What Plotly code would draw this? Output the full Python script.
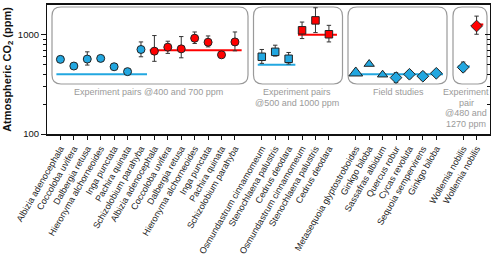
import plotly.graph_objects as go

# ---------------- data ----------------
tick_pos = list(range(0, 14)) + list(range(15, 21)) + list(range(22, 29)) + [30, 31]
tick_labels = [
    "Albizia adenocephala", "Coccoloba uvifera", "Dalbergia retusa", "Hieronyma alchorneoides",
    "Inga punctata", "Pachira quinata", "Schizolobium parahyba",
    "Albizia adenocephala", "Coccoloba uvifera", "Dalbergia retusa", "Hieronyma alchorneoides",
    "Inga punctata", "Pachira quinata", "Schizolobium parahyba",
    "Osmundastrum cinnamomeum", "Stenochlaena palustris", "Cedrus deodara",
    "Osmundastrum cinnamomeum", "Stenochlaena palustris", "Cedrus deodara",
    "Metasequoia glyptostroboides", "Ginkgo biloba", "Sassafras albidum", "Quercus robur",
    "Cycas revoluta", "Sequoia sempervirens", "Ginkgo biloba",
    "Wollemia nobilis", "Wollemia nobilis",
]

blue_circ_x = [0, 1, 2, 3, 4, 5, 6]
blue_circ_y = [565, 484, 569, 578, 476, 425, 711]
blue_circ_up = [0, 0, 104, 0, 0, 0, 136]
blue_circ_dn = [0, 0, 74, 0, 0, 0, 111]

red_circ_x = [7, 8, 9, 10, 11, 12, 13]
red_circ_y = [684, 750, 721, 923, 841, 628, 847]
red_circ_up = [298, 111, 238, 144, 132, 0, 220]
red_circ_dn = [144, 101, 135, 106, 86, 0, 158]

blue_sq_x = [15, 16, 17]
blue_sq_y = [600, 673, 573]
blue_sq_up = [111, 112, 90]
blue_sq_dn = [85, 63, 66]

red_sq_x = [18, 19, 20]
red_sq_y = [1109, 1396, 1012]
red_sq_up = [234, 475, 233]
red_sq_dn = [193, 344, 165]

tri_x = [22, 23, 24]
tri_y = [412, 507, 396]

blue_dia_x = [25, 26, 27, 28, 30]
blue_dia_y = [370, 400, 382, 409, 470]
blue_dia_up = [45, 34, 37, 32, 61]
blue_dia_dn = [40, 33, 31, 24, 45]

red_dia_x = [31]
red_dia_y = [1225]
red_dia_up = [317]
red_dia_dn = [213]

# reference CO2 levels (ppm) per group: (x start, x end, level)
blue_levels = [(-0.3, 6.45, 400), (14.7, 17.5, 500), (21.65, 28.5, 400), (29.6, 30.5, 480)]
red_levels = [(6.65, 13.5, 700), (17.7, 20.6, 1000), (30.75, 31.5, 1270)]

panel_labels = [["Experiment pairs @400 and 700 ppm"],
                ["Experiment pairs", "@500 and 1000 ppm"],
                ["Field studies"],
                ["Experiment", "pair", "@480 and", "1270 ppm"]]

# ---------------- style ----------------
BLUE = "#22a7e0"
RED = "#ff0000"
EDGE = "#222222"
ERR = "#333333"
FONT = "Liberation Sans, Arial, sans-serif"

W, H = 500, 261
ML, MR, MT, MB = 47, 10, 5, 127
XR = [-1, 32]
PW = W - ML - MR
PH = H - MT - MB

fig = go.Figure()

for x0, x1, lv in blue_levels:
    fig.add_trace(go.Scatter(x=[x0, x1], y=[lv, lv], mode="lines",
                             line=dict(color=BLUE, width=2), hoverinfo="skip"))
for x0, x1, lv in red_levels:
    fig.add_trace(go.Scatter(x=[x0, x1], y=[lv, lv], mode="lines",
                             line=dict(color=RED, width=2), hoverinfo="skip"))


def pts(x, y, color, symbol, size, up=None, dn=None):
    err = None
    if up is not None:
        err = dict(type="data", symmetric=False, array=up, arrayminus=dn,
                   color=ERR, thickness=1, width=2.2)
    fig.add_trace(go.Scatter(x=x, y=y, mode="markers", error_y=err, cliponaxis=False,
                             marker=dict(color=color, symbol=symbol, size=size, opacity=1,
                                         line=dict(color=EDGE, width=1))))


pts(blue_circ_x, blue_circ_y, BLUE, "circle", 8, blue_circ_up, blue_circ_dn)
pts(red_circ_x, red_circ_y, RED, "circle", 8, red_circ_up, red_circ_dn)
pts(blue_sq_x, blue_sq_y, BLUE, "square", 7.5, blue_sq_up, blue_sq_dn)
pts(red_sq_x, red_sq_y, RED, "square", 7.5, red_sq_up, red_sq_dn)
pts(tri_x, tri_y, BLUE, "triangle-up", [12, 9, 9])
pts(blue_dia_x, blue_dia_y, BLUE, "diamond", 9, blue_dia_up, blue_dia_dn)
pts(red_dia_x, red_dia_y, RED, "diamond", 9, red_dia_up, red_dia_dn)

# panels (pixel extents converted to paper coordinates)
def px2paper(p):
    return (p - ML) / PW

def py2paper(p):
    return (H - MB - p) / PH

panels = [(52, 248), (253.5, 342.5), (348, 447), (453, 487)]
label_cx = [148, 297, 398, 466]
line_y = [92, 102.6, 113.2, 123.8]
ytop, ybot = py2paper(7), py2paper(84)
r = 9
rx, ry = r / PW, r / PH
for (a, b), lines, cx in zip(panels, panel_labels, label_cx):
    x0, x1 = px2paper(a), px2paper(b)
    path = (f"M {x0+rx},{ytop} L {x1-rx},{ytop} Q {x1},{ytop} {x1},{ytop-ry} "
            f"L {x1},{ybot+ry} Q {x1},{ybot} {x1-rx},{ybot} "
            f"L {x0+rx},{ybot} Q {x0},{ybot} {x0},{ybot+ry} "
            f"L {x0},{ytop-ry} Q {x0},{ytop} {x0+rx},{ytop} Z")
    fig.add_shape(type="path", path=path, xref="paper", yref="paper",
                  line=dict(color="#9a9a9a", width=1.2), layer="below")
    for txt, ly in zip(lines, line_y):
        fig.add_annotation(x=px2paper(cx), y=py2paper(ly), xref="paper", yref="paper",
                           text=txt, showarrow=False, yanchor="middle", xanchor="center",
                           font=dict(family=FONT, size=9, color="#9a9a9a"))

minor_vals = [200, 300, 400, 500, 600, 700, 800, 900]
fig.update_layout(
    width=W, height=H, margin=dict(l=ML, r=MR, t=MT, b=MB, autoexpand=False),
    plot_bgcolor="white", paper_bgcolor="white", showlegend=False,
    font=dict(family=FONT, size=9, color="#111"),
    xaxis=dict(range=XR, tickmode="array", tickvals=tick_pos, ticktext=tick_labels,
               tickangle=-60, ticks="outside", ticklen=4, tickcolor="#111", automargin=False,
               showline=True, linecolor="#111", linewidth=1.5, mirror=True,
               showgrid=False, zeroline=False, tickfont=dict(size=9, color="#222")),
    yaxis=dict(type="log", range=[2, 3.3], tickmode="array", tickvals=[100, 1000],
               ticktext=["100", "1000"], ticks="outside", ticklen=5, tickcolor="#111",
               showline=True, linecolor="#111", linewidth=1.2, showgrid=False, automargin=False,
               zeroline=False, tickfont=dict(size=9.5, color="#111"),
               minor=dict(tickmode="array", tickvals=minor_vals,
                          ticks="outside", ticklen=2.5, tickcolor="#111"),
               title=dict(text="<b>Atmospheric CO<sub>2</sub> (ppm)</b>",
                          font=dict(size=11, color="#111"), standoff=4)),
    yaxis2=dict(type="log", range=[2, 3.3], overlaying="y", side="right",
                tickmode="array", tickvals=[100, 1000], ticks="inside", ticklen=5,
                tickcolor="#111", showticklabels=False, showline=True, linecolor="#111",
                linewidth=1.3, showgrid=False, zeroline=False, automargin=False,
                minor=dict(tickmode="array", tickvals=minor_vals,
                           ticks="inside", ticklen=2.5, tickcolor="#111")),
)
# empty trace so that the right-hand axis (inward ticks) is drawn
fig.add_trace(go.Scatter(x=[None], y=[None], yaxis="y2", hoverinfo="skip"))

fig.write_html(
    "out.html",
    config={"displayModeBar": False, "responsive": False},
    post_script=(
        "var s=document.createElement('style');"
        "s.textContent='html,body{margin:0;padding:0;overflow:hidden;}';"
        "document.head.appendChild(s);"
    ),
)
